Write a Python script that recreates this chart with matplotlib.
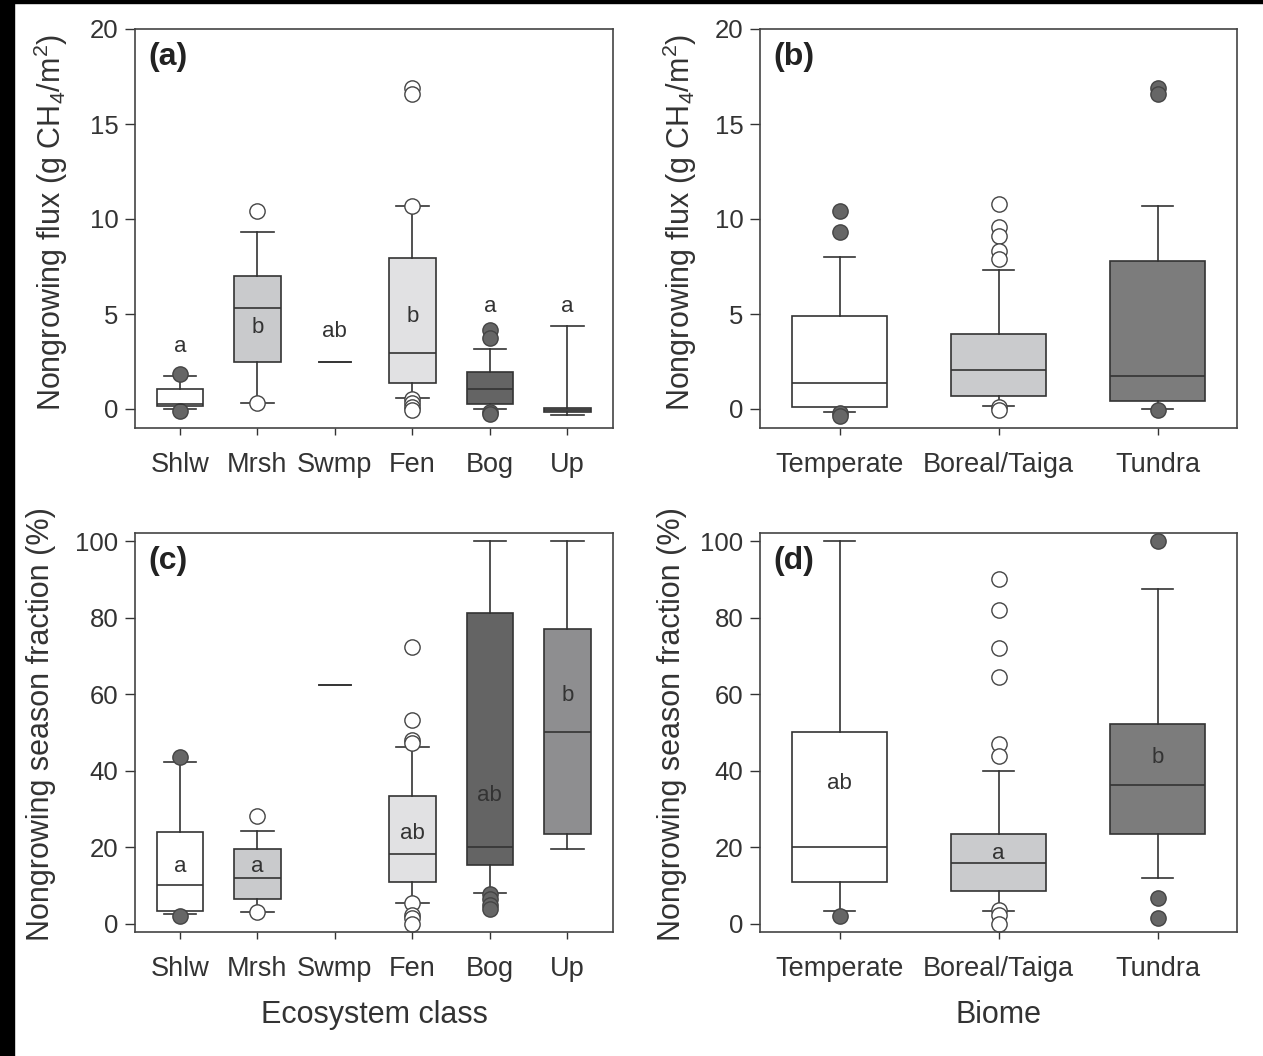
import matplotlib
matplotlib.use("Agg")
import matplotlib.pyplot as plt
from matplotlib.patches import Rectangle

plt.rcParams['font.family'] = ['Liberation Sans', 'DejaVu Sans']
plt.rcParams['mathtext.fontset'] = 'custom'
plt.rcParams['mathtext.rm'] = 'Liberation Sans'
plt.rcParams['mathtext.it'] = 'Liberation Sans:italic'

# ---- data ----
eco_classes = ['Shlw', 'Mrsh', 'Swmp', 'Fen', 'Bog', 'Up']
biomes = ['Temperate', 'Boreal/Taiga', 'Tundra']

# (a) nongrowing flux by ecosystem class
flux_eco_lo = [0.0, 0.3, 2.46, 0.56, 0.0, -0.32]
flux_eco_q1 = [0.16, 2.46, 2.46, 1.35, 0.25, -0.17]
flux_eco_med = [0.26, 5.3, 2.46, 2.93, 1.04, -0.05]
flux_eco_q3 = [1.04, 7.0, 2.46, 7.93, 1.96, 0.07]
flux_eco_hi = [1.74, 9.3, 2.46, 10.7, 3.16, 4.37]
flux_eco_out = [[1.84, -0.1], [10.4, 0.3], [],
                [16.9, 16.6, 10.7, 0.55, 0.3, 0.1, -0.05],
                [4.16, 3.72, -0.14, -0.28], []]
flux_eco_letters = ['a', 'b', 'ab', 'b', 'a', 'a']
flux_eco_letter_y = [3.3, 4.3, 4.07, 4.86, 5.38, 5.38]

# (b) nongrowing flux by biome
flux_bio_lo = [-0.17, 0.14, 0.0]
flux_bio_q1 = [0.12, 0.7, 0.4]
flux_bio_med = [1.35, 2.05, 1.74]
flux_bio_q3 = [4.91, 3.96, 7.79]
flux_bio_hi = [8.0, 7.3, 10.7]
flux_bio_out = [[10.4, 9.3, -0.23, -0.35],
                [10.8, 9.6, 9.1, 8.3, 7.9, 0.12, -0.05],
                [16.9, 16.6, -0.05]]

# (c) nongrowing season fraction by ecosystem class
frac_eco_lo = [2.6, 3.0, 62.5, 5.5, 8.2, 19.6]
frac_eco_q1 = [3.5, 6.6, 62.5, 11.0, 15.3, 23.6]
frac_eco_med = [10.1, 12.0, 62.5, 18.4, 20.0, 50.2]
frac_eco_q3 = [24.0, 19.6, 62.5, 33.3, 81.3, 77.0]
frac_eco_hi = [42.4, 24.3, 62.5, 46.3, 100.0, 100.0]
frac_eco_out = [[43.7, 2.2], [28.3, 3.0], [],
                [72.2, 53.2, 48.0, 47.2, 5.5, 2.4, 1.6, 0.0],
                [7.8, 6.4, 5.0, 3.8], []]
frac_eco_letters = ['a', 'a', '', 'ab', 'ab', 'b']
frac_eco_letter_y = [15.0, 15.0, 0, 23.6, 33.5, 59.6]

# (d) nongrowing season fraction by biome
frac_bio_lo = [3.5, 3.5, 12.0]
frac_bio_q1 = [11.0, 8.5, 23.6]
frac_bio_med = [20.0, 16.0, 36.4]
frac_bio_q3 = [50.2, 23.5, 52.1]
frac_bio_hi = [100.0, 40.0, 87.6]
frac_bio_out = [[2.0], [90.0, 82.0, 72.0, 64.4, 47.1, 43.8, 3.7, 2.4, 0.0],
                [100.0, 6.75, 1.6]]
frac_bio_letters = ['ab', 'a', 'b']
frac_bio_letter_y = [36.7, 18.5, 43.5]

# styles
eco_colors = ['white', '#c9cacc', 'white', '#e1e1e3', '#646464', '#8e8e90']
eco_filled = [True, False, False, False, True, True]
bio_colors = ['white', '#cacbcd', '#7c7c7c']
bio_filled = [True, False, True]
ink = '#333333'


def draw_boxes(ax, lo, q1, med, q3, hi, out, colors, filled, capw, single=()):
    for i in range(len(lo)):
        st = dict(med=med[i], q1=q1[i], q3=q3[i], whislo=lo[i], whishi=hi[i],
                  fliers=out[i])
        face = '#666666' if filled[i] else 'white'
        only_line = i in single
        ax.bxp([st], positions=[i + 1], widths=0.6, capwidths=capw,
               patch_artist=True, showbox=not only_line, manage_ticks=False,
               boxprops=dict(facecolor=colors[i], edgecolor=ink, linewidth=1.2),
               whiskerprops=dict(color=ink, linewidth=1.2),
               capprops=dict(color=ink, linewidth=1.2),
               medianprops=dict(color=ink, linewidth=1.2,
                                linestyle='none' if only_line else '-'),
               flierprops=dict(marker='o', markersize=11, markerfacecolor=face,
                               markeredgecolor='#444444', markeredgewidth=1.0))


def style_axes(ax, labels, ylim, yticks):
    ax.set_xticks(range(1, len(labels) + 1))
    ax.set_xticklabels(labels)
    ax.set_ylim(*ylim)
    ax.set_yticks(yticks)
    ax.tick_params(axis='y', direction='out', length=7, width=1, pad=5,
                   labelsize=18.5, colors=ink)
    ax.tick_params(axis='x', direction='out', length=5, width=1, pad=12,
                   labelsize=19.5, colors=ink)
    for s in ax.spines.values():
        s.set_color('#444444')
        s.set_linewidth(1.2)


fig = plt.figure(figsize=(12.63, 10.56), dpi=100)
fig.add_artist(Rectangle((0, 0), 14 / 1263, 1, transform=fig.transFigure,
                         color='black', zorder=10))
fig.add_artist(Rectangle((0, 1 - 3 / 1056), 1, 3 / 1056, transform=fig.transFigure,
                         color='black', zorder=10))

w_l, w_r = 478 / 1263, 477 / 1263
h = 399 / 1056
ax_a = fig.add_axes([135 / 1263, 1 - 428 / 1056, w_l, h])
ax_b = fig.add_axes([760 / 1263, 1 - 428 / 1056, w_r, h])
ax_c = fig.add_axes([135 / 1263, 1 - 932 / 1056, w_l, h])
ax_d = fig.add_axes([760 / 1263, 1 - 932 / 1056, w_r, h])

draw_boxes(ax_a, flux_eco_lo, flux_eco_q1, flux_eco_med, flux_eco_q3, flux_eco_hi,
           flux_eco_out, eco_colors, eco_filled, 0.42, single=(2,))
draw_boxes(ax_b, flux_bio_lo, flux_bio_q1, flux_bio_med, flux_bio_q3, flux_bio_hi,
           flux_bio_out, bio_colors, bio_filled, 0.2)
draw_boxes(ax_c, frac_eco_lo, frac_eco_q1, frac_eco_med, frac_eco_q3, frac_eco_hi,
           frac_eco_out, eco_colors, eco_filled, 0.42, single=(2,))
draw_boxes(ax_d, frac_bio_lo, frac_bio_q1, frac_bio_med, frac_bio_q3, frac_bio_hi,
           frac_bio_out, bio_colors, bio_filled, 0.2)

style_axes(ax_a, eco_classes, (-1, 20), [0, 5, 10, 15, 20])
style_axes(ax_b, biomes, (-1, 20), [0, 5, 10, 15, 20])
style_axes(ax_c, eco_classes, (-2.1, 102.1), [0, 20, 40, 60, 80, 100])
style_axes(ax_d, biomes, (-2.1, 102.1), [0, 20, 40, 60, 80, 100])
ax_a.set_xlim(0.42, 6.59)
ax_c.set_xlim(0.42, 6.59)
ax_b.set_xlim(0.5, 3.5)
ax_d.set_xlim(0.5, 3.5)

for ax, letters, ys in [(ax_a, flux_eco_letters, flux_eco_letter_y),
                        (ax_c, frac_eco_letters, frac_eco_letter_y),
                        (ax_d, frac_bio_letters, frac_bio_letter_y)]:
    for i, (t, y) in enumerate(zip(letters, ys)):
        if t:
            ax.text(i + 1, y, t, ha='center', va='center', fontsize=16,
                    color=ink, zorder=5)

for ax, tag in zip([ax_a, ax_b, ax_c, ax_d], ['(a)', '(b)', '(c)', '(d)']):
    ax.text(0.028, 0.93, tag, transform=ax.transAxes, ha='left', va='center',
            fontsize=23, fontweight='bold', color='#222222')

flux_label = 'Nongrowing flux (g CH$_4$/m$^2$)'
frac_label = 'Nongrowing season fraction (%)'
for ax, lab in [(ax_a, flux_label), (ax_b, flux_label),
                (ax_c, frac_label), (ax_d, frac_label)]:
    ax.set_ylabel(lab, fontsize=22, color=ink)
ax_a.yaxis.set_label_coords(-0.135, 0.515)
ax_b.yaxis.set_label_coords(-0.128, 0.515)
ax_c.yaxis.set_label_coords(-0.165, 0.52)
ax_d.yaxis.set_label_coords(-0.152, 0.52)

ax_c.set_xlabel('Ecosystem class', fontsize=22, color=ink)
ax_d.set_xlabel('Biome', fontsize=22, color=ink)
ax_c.xaxis.set_label_coords(0.5, -0.17)
ax_d.xaxis.set_label_coords(0.5, -0.17)

fig.savefig('out.png', dpi=100, facecolor='white')
